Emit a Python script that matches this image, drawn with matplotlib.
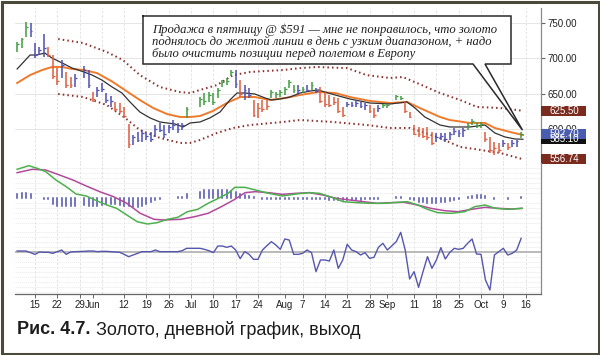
import numpy as np
import matplotlib
matplotlib.use("Agg")
import matplotlib.pyplot as plt
from matplotlib.patches import Rectangle
from matplotlib.lines import Line2D
import matplotlib.transforms as mtransforms

plt.rcParams['font.family'] = ['Liberation Sans', 'DejaVu Sans']

# ---------------- data (trading-day index, 0 = 15 May) ----------------
first_day = -4
highs = [723, 729, 751, 750, 722, 716, 734, 716, 705, 686, 697, 680, 673, 678, None,
         689, 683, 652, 659, 665, 651, 646, 638, 637, 631, 607, 591, 595, 598, 594, 595,
         605, 608, 605, 605, 612, 608, 608, 631, None, None,
         645, 651, 652, 651, 658, 669, 672, 683, 683, 669, 662, 658, 641, 637, 641, 641,
         655, 652, 655, 659, 669, 662, 662, 659, 662, 666, 658, 659, 652, 648, 645, 644,
         631, 638, 638, 641, 638, 637, 634, 629, 634, 635, 635, None,
         648, 646, 638, 624, 605, 602, 601, 602, 595, 594, 594, 594, 595, 601, 598, 601,
         608, 614, 610, 610, 595, 588, 581, 580, 584, 580, 584, 584, 595]
lows = [709, 715, 730, 730, 700, 705, 702, 702, 671, 662, 672, 658, 658, 659, None,
        672, 658, 638, 645, 652, 637, 631, 625, 622, 615, 573, 577, 581, 581, 584, 581,
        588, 595, 587, 594, 598, 594, 598, 615, None, None,
        631, 634, 638, 634, 644, 659, 662, 675, 658, 645, 641, 644, 617, 615, 624, 627,
        644, 644, 645, 648, 658, 651, 648, 651, 652, 655, 651, 637, 631, 631, 634, 622,
        617, 631, 631, 631, 629, 627, 622, 615, 624, 629, 629, None,
        641, 641, 622, 615, 591, 588, 587, 584, 577, 581, 584, 581, 584, 591, 588, 588,
        598, 605, 601, 601, 581, 566, 563, 566, 574, 570, 574, 574, 587]
closes = [720, 727, 745, 738, 705, 712, 715, 705, 675, 668, 690, 662, 662, 672, None,
          684, 662, 642, 655, 656, 641, 640, 628, 625, 618, 578, 588, 584, 594, 589, 585,
          600, 598, 592, 602, 605, 600, 606, 628, None, None,
          642, 640, 648, 638, 655, 666, 668, 680, 664, 650, 655, 648, 620, 630, 628, 632,
          652, 650, 652, 656, 666, 655, 655, 657, 655, 662, 653, 640, 635, 634, 638, 625,
          620, 635, 633, 637, 632, 633, 625, 620, 630, 633, 633, None,
          646, 644, 625, 617, 593, 592, 590, 588, 580, 588, 590, 586, 592, 597, 594, 598,
          606, 611, 606, 607, 585, 570, 573, 570, 580, 574, 580, 582, 592.7]
bar_kind = ("GGGBBBBRRRBRRB-BBRBBBBRRRRBBBBBBBBBBBBG--GGGGGGGGBRBBRRRRGGGGGG"
            "BGBGBRRRRRRBBBBBRRBGG-GGRRRRRRRBBBBBBBGGGGRRRRBRBBG")

fast_ema_x = [-4.0, -1.1, 0.4, 2.2, 3.8, 6.1, 8.3, 11.0, 12.8, 15.0, 17.3, 19.5, 21.3, 23.5,
              25.8, 28.0, 31.4, 33.2, 34.8, 37.0, 39.2, 41.5, 43.7, 45.3, 47.1, 49.3, 51.6,
              53.1, 54.9, 57.2, 59.4, 61.7, 63.5, 65.0, 67.3, 70.6, 75.1, 79.6, 83.4, 85.2,
              87.4, 90.8, 93.0, 97.5, 100.9, 103.1, 105.4, 107.6, 109.4]
fast_ema = [684.8, 704.6, 704.6, 707.4, 700.4, 693.3, 686.2, 680.5, 676.2, 669.1, 659.2,
            650.7, 638.0, 623.8, 615.3, 609.6, 606.7, 602.5, 608.2, 609.6, 615.3, 623.8,
            640.8, 650.7, 650.7, 649.3, 643.6, 640.8, 642.2, 645.0, 650.7, 653.5, 655.0,
            652.1, 647.9, 642.2, 636.5, 635.1, 638.0, 629.4, 616.7, 605.3, 602.5, 602.5,
            605.3, 594.0, 588.3, 585.5, 585.1]
slow_ema_x = [-4.0, -1.1, 1.6, 3.8, 6.1, 8.3, 11.0, 13.9, 17.3, 20.6, 23.5, 26.5, 29.6,
              32.5, 34.8, 37.0, 39.9, 43.0, 46.0, 49.3, 52.7, 56.1, 59.4, 63.5, 67.3, 70.6,
              75.1, 79.6, 83.4, 86.3, 90.8, 93.0, 97.5, 100.9, 103.1, 106.5, 109.4]
slow_ema = [664.9, 676.2, 683.3, 687.6, 687.6, 684.8, 683.3, 679.0, 667.0, 653.0, 640.8,
            629.4, 620.9, 616.7, 616.7, 618.1, 625.2, 636.5, 645.0, 645.0, 640.8, 643.6,
            647.9, 652.1, 650.7, 645.0, 639.4, 636.5, 638.0, 629.4, 616.7, 612.4, 608.2,
            608.2, 601.1, 595.4, 591.1]
upper_x = [5.2, 10.8, 16.1, 19.7, 23.5, 28.0, 32.5, 34.8, 37.0, 40.8, 44.4, 48.2, 52.0,
           55.6, 59.4, 63.2, 70.0, 74.4, 79.6, 82.5, 85.6, 90.8, 95.3, 99.1, 104.3, 109.4]
upper_env = [727.3, 721.6, 708.9, 697.5, 676.2, 659.2, 652.1, 650.7, 655.0, 662.0, 676.0,
             680.5, 682.0, 683.3, 686.0, 687.6, 686.0, 676.0, 672.0, 673.4, 665.0, 650.7,
             640.8, 630.9, 629.4, 625.5]
lower_x = [5.2, 10.8, 16.1, 20.2, 23.5, 28.0, 32.5, 34.8, 37.0, 40.8, 44.4, 48.2, 55.6,
           59.4, 66.8, 74.4, 79.6, 84.1, 90.8, 95.3, 99.8, 104.3, 109.4]
lower_env = [649.3, 645.0, 633.7, 615.3, 598.3, 587.0, 579.9, 579.9, 584.1, 594.0, 601.1,
             605.3, 609.6, 612.4, 609.6, 605.3, 601.1, 601.1, 586.9, 574.2, 570.0, 565.7,
             556.74]

macd_x = [-4.0, -1.4, 0.5, 2.4, 4.7, 7.0, 9.2, 11.5, 13.8, 16.1, 18.3, 20.6, 22.9, 25.2,
          27.4, 29.7, 32.0, 34.2, 36.5, 38.8, 41.1, 43.3, 44.8, 47.1, 49.4, 52.4, 55.5,
          58.5, 61.5, 63.8, 66.1, 69.1, 72.1, 75.2, 78.2, 81.2, 83.5, 85.8, 88.0, 90.3,
          93.3, 96.4, 98.6, 100.9, 103.2, 106.2, 109.2]
macd_line = [21.75, 24.5, 22.5, 20.0, 13.75, 8.75, 3.25, 1.75, -1.75, -5.0, -7.5, -12.5,
             -17.5, -19.25, -18.25, -15.75, -14.25, -10.0, -8.25, -3.75, 0.0, 3.75, 8.25,
             8.25, 6.25, 3.75, 1.75, 3.25, 4.25, 3.75, 1.25, -2.5, -3.25, -3.75, -3.75,
             -3.0, -2.5, -5.0, -8.25, -10.75, -11.25, -10.0, -6.25, -5.0, -7.5, -8.25, -7.5]
signal_x = [-4.0, -0.6, 2.4, 5.5, 8.5, 11.5, 14.5, 17.6, 20.6, 23.6, 26.7, 28.9, 32.7,
            35.8, 38.8, 41.8, 44.8, 47.1, 49.4, 52.4, 55.5, 58.5, 61.5, 64.5, 67.6, 70.6,
            73.6, 76.7, 79.7, 82.7, 85.8, 88.8, 91.8, 94.8, 97.9, 100.9, 103.9, 107.0, 109.2]
signal_line = [19.25, 21.75, 21.25, 17.5, 13.75, 9.25, 5.0, 1.25, -3.75, -11.25, -15.75,
               -16.25, -15.75, -13.75, -11.25, -6.25, -0.75, 4.25, 5.0, 4.25, 3.0, 3.75,
               4.25, 2.5, 0.0, -1.25, -2.5, -3.75, -3.25, -3.0, -5.0, -7.5, -9.25, -10.0,
               -8.25, -6.75, -7.5, -8.0, -7.5]
histogram = [3.5, 3.75, 3.75, 3.0, 0.5, 0.3, -0.3, -0.5, -4.0, -5.5, -6.0, -6.0, -6.0, -6.0,
             None, -5.0, -5.5, -6.0, -5.5, -5.0, -4.5, -4.5, -4.5, -5.0, -5.5, -6.0, -6.5,
             -6.5, -6.0, -4.5, -3.0, -1.5, -0.5, 0.3, 0.3, 0.5, 0.8, 1.0, 3.5, None, None,
             5.0, 6.0, 6.5, 6.5, 6.5, 6.0, 6.0, 5.5, 5.0, 3.5, 2.5, 2.0, 0.8, 0.3, -0.5,
             -0.5, -0.5, -0.3, -0.3, -0.2, -0.2, -0.2, -0.2, -0.2, -0.2, -0.2, -0.3, -0.5,
             -0.5, -1.0, -1.0, -1.5, -1.5, -1.5, -1.5, -1.2, -1.0, -0.8, -0.5, -0.3, -0.2,
             0.3, 0.3, None, 0.8, 1.0, 0.5, -0.5, -1.5, -2.5, -3.0, -3.5, -3.5, -3.5, -3.0,
             -2.5, -2.0, -1.0, -0.5, 0.3, 0.8, 1.5, 2.5, 2.5, 1.5, 0.3, -0.2, 0.3, 0.2,
             -0.2, 0.3, 0.5, 0.8]
force_index = [0.2, 0.2, 0.2, -0.3, -0.8, -0.1, -0.2, -0.2, -0.5, 0.0, 0.5, -0.8, -0.1, 0.0,
               None, 0.1, 0.2, 0.2, 0.0, 0.1, 0.1, 0.0, -0.1, -0.2, -0.8, -1.5, -1.0, -0.5,
               0.0, 0.0, 0.0, 0.5, 0.0, 0.0, 0.0, 0.0, 0.0, 0.3, 1.0, None, None,
               1.0, 0.7, 0.3, -0.3, 1.7, 1.7, 1.3, 1.7, 0.5, -2.1, 0.0, -0.8, -2.3, -2.3,
               0.5, 1.8, 3.0, 2.0, 0.7, 3.8, 3.5, -0.8, -0.8, -0.5, 0.5, -0.3, -6.0, -2.5,
               -2.5, -2.8, 0.5, -5.0, -2.5, 2.2, 0.5, 0.0, -1.0, -0.3, -2.0, -1.7, 1.3, 2.5,
               0.5, None, 3.0, 5.8, 0.5, -8.2, -6.0, -10.7, -6.0, -1.5, -5.0, -2.5, 1.2,
               -2.2, -0.2, 1.0, 0.7, 1.0, 2.5, 3.8, -0.7, -0.8, -8.5, -11.5, -1.0, 0.0, 1.0,
               -1.0, -0.5, 0.5, 4.0]

tick_days = [0, 5, 10, 13, 20, 25, 30, 35, 40, 45, 50, 56, 60, 65, 70, 75, 79, 85, 90, 95,
             100, 105, 110]
tick_labels = ["15", "22", "29", "Jun", "12", "19", "26", "Jul", "10", "17", "24", "Aug",
               "7", "14", "21", "28", "Sep", "11", "18", "25", "Oct", "9", "16"]
price_ticks = [600, 650, 700, 750]
last_labels = [("625.50", 625.50, "#7a2b1e"), ("585.10", 585.10, "#111111"),
               ("592.70", 592.70, "#4a5cae"), ("556.74", 556.74, "#7a2b1e")]
note_lines = ["Продажа в пятницу @ \\$591 — мне не понравилось, что золото",
              "поднялось до желтой линии в день с узким диапазоном, + надо",
              "было очистить позиции перед полетом в Европу"]

def arr(v):
    return np.array([np.nan if x is None else x for x in v], dtype=float)

n = len(highs)
days = np.arange(first_day, first_day + n)
H_ = arr(highs); L_ = arr(lows); C_ = arr(closes)
hist = arr(histogram); force = arr(force_index)

# ---------------- figure layout (pixels) ----------------
W, Hh = 600, 355
fig = plt.figure(figsize=(W / 100, Hh / 100), dpi=100)
fig.patch.set_facecolor("white")
LPX, RPX = 15, 541

def axes_px(top, bottom):
    return fig.add_axes([LPX / W, 1 - bottom / Hh, (RPX - LPX) / W, (bottom - top) / Hh])

ax_p = axes_px(8, 163)
ax_m = axes_px(163, 228)
ax_f = axes_px(228, 293.5)
XL = (-4.48, 113.45)
ax_p.set_ylim(551.4, 771.3)
ax_m.set_ylim(-22.25, 26.5)
ax_f.set_ylim(-12.55, 7.1)

for ax in (ax_p, ax_m, ax_f):
    ax.set_xlim(*XL)
    ax.set_facecolor("none")
    for s in ("left", "top", "bottom"):
        ax.spines[s].set_visible(False)
    ax.spines["right"].set_color("#8a8a8a")
    ax.spines["right"].set_linewidth(0.9)
    ax.tick_params(left=False, labelleft=False, bottom=False, labelbottom=False,
                   right=False, labelright=False)
    for d in range(0, 115, 5):
        ax.axvline(d, color="#dedede", lw=0.6, ls=(0, (3, 2)), zorder=0)

for v in price_ticks:
    ax_p.axhline(v, color="#e2e2e2", lw=0.6, zorder=0)
for k in range(-5, 7):
    if k != 0:
        ax_m.axhline(3.75 * k, color="#e8e8e8", lw=0.5, ls=(0, (2, 1)), zorder=0)
for k in range(-8, 5):
    if k != 0:
        ax_f.axhline(1.5 * k, color="#e8e8e8", lw=0.5, ls=(0, (2, 1)), zorder=0)

# ---------------- price panel ----------------
kind_color = {"G": "#3f9b3f", "R": "#de5a3c", "B": "#4b4db3"}
for d, h, l, c, k in zip(days, H_, L_, C_, bar_kind):
    if k == "-" or np.isnan(h):
        continue
    col = kind_color[k]
    ax_p.vlines(d, l, h, color=col, lw=1.1, zorder=3)
    ax_p.hlines(c, d, d + 0.4, color=col, lw=0.9, zorder=3)

ax_p.plot(slow_ema_x, slow_ema, color="#f07a2c", lw=1.4, zorder=2)
ax_p.plot(fast_ema_x, fast_ema, color="#333333", lw=0.9, zorder=2)
dot = (0, (0.75, 1.55))
ax_p.plot(upper_x, upper_env, color="#8c2f2a", lw=1.45, ls=dot, zorder=2)
ax_p.plot(lower_x, lower_env, color="#8c2f2a", lw=1.45, ls=dot, zorder=2)

ax_p.set_yticks(price_ticks)
ax_p.set_yticklabels([f"{v:.2f}" for v in price_ticks])
ax_p.tick_params(axis="y", right=True, labelright=True, length=3, width=0.8,
                 color="#666666", labelsize=7, pad=1.5, labelcolor="#222222")

trans = mtransforms.blended_transform_factory(ax_p.transAxes, ax_p.transData)
dpp = (771.3 - 551.4) / 155.0
for text, v, fc in last_labels:
    ax_p.add_patch(Rectangle((1.0, v - 5 * dpp), 45 / 526, 10 * dpp, transform=trans,
                             fc=fc, ec="none", clip_on=False, zorder=6))
    ax_p.text(1.0 + 23 / 526, v, text, transform=trans, ha="center", va="center",
              color="white", fontsize=7, clip_on=False, zorder=7)

# ---------------- MACD panel ----------------
ax_m.vlines(days, 0, hist, color="#4d4fae", lw=1.1, capstyle="projecting", zorder=2)
ax_m.plot(signal_x, signal_line, color="#b24a9c", lw=1.1, zorder=3)
ax_m.plot(macd_x, macd_line, color="#4cb14c", lw=1.1, zorder=3)

# ---------------- Force panel ----------------
ax_f.axhline(0, color="#b4b4b4", lw=1.3, zorder=1)
ok = ~np.isnan(force)
ax_f.plot(days[ok], force[ok], color="#5556ad", lw=1.0, zorder=3)
ax_f.spines["bottom"].set_visible(True)
ax_f.spines["bottom"].set_color("#666666")
ax_f.spines["bottom"].set_linewidth(0.9)
ax_f.set_xticks(tick_days)
ax_f.set_xticklabels(tick_labels)
ax_f.tick_params(axis="x", bottom=True, labelbottom=True, length=3, width=0.7,
                 color="#666666", labelsize=7, pad=1.5, labelcolor="#222222")

# ---------------- annotation box ----------------
def fpt(px, py):
    return px / W, 1 - py / Hh

bx0, by0, bx1, by1 = 143, 16, 511, 64
fig.add_artist(Rectangle(fpt(bx0, by1), (bx1 - bx0) / W, (by1 - by0) / Hh,
                         transform=fig.transFigure, fc="white", ec="none", zorder=3))
tip_disp = ax_p.transData.transform((109.3, 598.0))
tip = fig.transFigure.inverted().transform(tip_disp)
pts = [fpt(bx0, by0), fpt(bx1, by0), fpt(bx1, by1), fpt(485, by1), tuple(tip),
       fpt(473, by1), fpt(bx0, by1), fpt(bx0, by0)]
fig.add_artist(Line2D([p[0] for p in pts], [p[1] for p in pts], transform=fig.transFigure,
                      color="#2a2a2a", lw=1.1, zorder=4, solid_joinstyle="miter"))
for i, line in enumerate(note_lines):
    fig.text(*fpt(152, 29.5 + 12 * i), line, fontsize=9.1, family="Liberation Serif",
             style="italic", color="#1e1e1e", ha="left", va="center", zorder=5)

# ---------------- caption & border ----------------
t1 = fig.text(*fpt(17, 330), "Рис. 4.7.", fontsize=13, fontweight="bold",
              ha="left", va="center", color="#1c1c1c")
fig.canvas.draw()
bb = t1.get_window_extent(renderer=fig.canvas.get_renderer())
fig.text((bb.x1 + 5) / W, 1 - 330 / Hh, "Золото, дневной график, выход", fontsize=13,
         ha="left", va="center", color="#1c1c1c")
fig.add_artist(Rectangle((1.5 / W, 1.5 / Hh), (W - 3) / W, (Hh - 3) / Hh, fill=False,
                         ec="#4b493a", lw=2.2, transform=fig.transFigure, zorder=10))

fig.savefig("out.png", dpi=100)
